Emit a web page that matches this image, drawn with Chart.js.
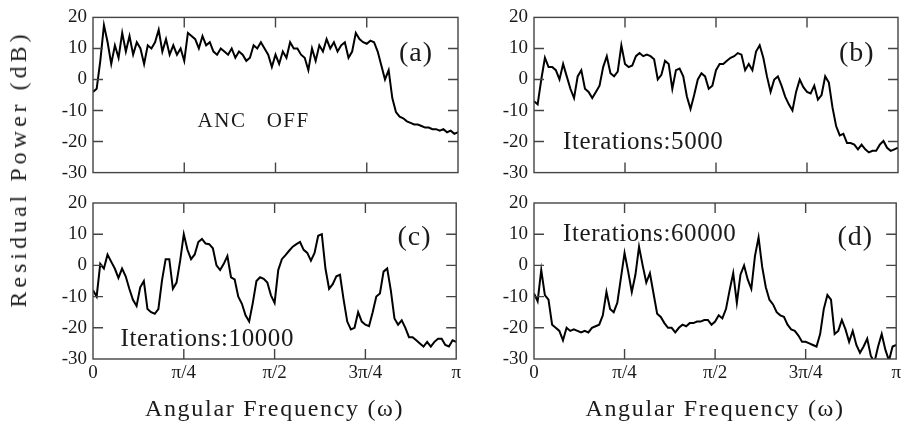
<!DOCTYPE html>
<html>
<head>
<meta charset="utf-8">
<script src="https://cdn.jsdelivr.net/npm/chart.js@4.4.1/dist/chart.umd.min.js"></script>
<style>
  body { margin: 0; background: #fff; }
  #wrap { position: relative; width: 904px; height: 426px; background: #fff; overflow: hidden; }
  canvas { position: absolute; }
  #ytitle {
    position: absolute; left: 18px; top: 169px;
    transform: translate(-50%, -50%) rotate(-90deg);
    font: 24px "Liberation Serif", serif; line-height: 1;
    letter-spacing: 4px; white-space: nowrap; color: #222;
  }
</style>
</head>
<body>
<div id="wrap">
  <canvas id="pa" width="464" height="190" style="left:0;top:0"></canvas>
  <canvas id="pb" width="442" height="190" style="left:462px;top:0"></canvas>
  <canvas id="pc" width="464" height="246" style="left:0;top:180px"></canvas>
  <canvas id="pd" width="442" height="246" style="left:462px;top:180px"></canvas>
  <div id="ytitle">Residual Power (dB)</div>
</div>
<script>
// x is angular frequency in units of pi, sampled every pi/100
const xTickLabels = ['0', 'π/4', 'π/2', '3π/4', 'π'];
const xTitle = 'Angular Frequency (ω)';

// (a) ANC off
const ancOff = [
  -4, -3, 6, 17.5, 12, 5, 11, 7, 15, 9,
  14, 8, 12, 10, 5, 11, 10, 12, 16, 9,
  13, 8, 11, 8, 10, 6, 15, 14, 13, 10,
  14, 11, 12, 9, 8, 10, 9, 8, 10, 7,
  9, 8, 6, 7, 11, 10, 12, 10, 8, 4,
  8, 5, 9, 7, 12, 10, 10, 8, 7, 3,
  10, 6, 11, 9, 13, 10, 12, 9, 11, 12,
  7, 9, 15, 13, 12, 11.5, 12.5, 12, 9, 4.5,
  0, 3, -6, -10.5, -12, -12.5, -13.5, -14, -14.5, -14.5,
  -15, -15.5, -15.5, -16, -16, -16.5, -16, -17, -16.5, -17.5,
  -17
];

// (b) 5000 iterations
const iter5000 = [
  -7, -8, 0, 7, 4, 4, 3, 0, 5, 1,
  -3, -6, 1, 3, -3, -4, -6, -4, -2, 4,
  7.5, 2, 1, 2.5, 11, 5, 4, 4.5, 7.5, 8.5,
  7.5, 8, 7.5, 6.5, 0, 1.5, 6, 5, -3, 3,
  3.5, 1, -5.5, -9.5, -5, 0, 2, 1, -3, -2,
  3, 5, 5, 6, 7, 7.5, 8.5, 8, 3, 5,
  3, 9, 11, 7, 1, -4, 0, 1, -2, -5.5,
  -8, -10, -4, 0, -2.5, -4, -4.5, -2, -6.5, -5,
  1, -1, -9, -15, -18, -17.5, -20.5, -20.5, -21, -22.5,
  -21, -22.5, -23.5, -23, -23, -21, -19.8, -22, -23, -22.5,
  -22
];

// (c) 10000 iterations
const iter10000 = [
  -8, -10, 0.5, -1, 3.5, 1.2, -1, -4, -1, -3.5,
  -7.5, -11, -13, -7, -5, -14, -15, -15.5, -14, -4.8,
  2, 2, -7.5, -5.5, 1.5, 10, 5, 2, 3.5, 7.5,
  8.5, 7, 6.8, 5.5, 0, -1.5, 0.5, 3, -3.8, -4.5,
  -10, -12.3, -16, -18, -12, -5, -3.8, -4.3, -5.5, -9.6,
  -12, -1.5, 2, 3.3, 4.7, 6, 6.8, 7.5, 5, 4,
  1.5, 4, 9.5, 10, -1, -7.5, -6, -3.5, -3, -11,
  -18, -20.5, -20, -15, -18, -19, -19.5, -15, -10, -9,
  -2, -1, -8, -17, -19, -17.6, -20, -23, -23, -24,
  -25, -26, -24.5, -26, -24.5, -23.5, -23.5, -25.5, -26, -24,
  -24.5
];

// (d) 60000 iterations
const iter60000 = [
  -9, -11.5, -1.5, -9.5, -11, -19, -20, -21, -24, -20,
  -21, -20.5, -21, -21.5, -21, -21.5, -20, -19.5, -19, -16,
  -8.5, -14, -15, -12, -4, 4, -2, -8.5, -3, 6,
  0, -5.5, -2.5, -9, -15.5, -16.5, -18.5, -20, -20, -21.5,
  -20, -19, -19.5, -18.5, -18.5, -18, -18, -17.5, -17.5, -19,
  -18, -16, -17, -14, -8, -2.5, -12, -3, 0, -4.5,
  -7.5, 3, 9, -0.5, -7, -11, -12.5, -15, -16, -16.5,
  -19, -20.5, -21, -22.5, -24.5, -24.5, -25, -25.5, -26, -22,
  -14, -9.5, -11, -22, -21, -17.5, -20.5, -24.5, -21, -25.5,
  -28, -26, -23.5, -29, -31, -26, -22, -27, -30.5, -26,
  -25.5
];

const freq = ancOff.map((v, i) => i / 100);

const serif = '"Liberation Serif", serif';

// letter-spaced axis titles; tick labels are drawn later (z: 1) without spacing
const spacingPlugin = {
  id: 'spacing',
  beforeDraw(chart) { chart.ctx.letterSpacing = '1.7px'; },
  beforeDatasetsDraw(chart) { chart.ctx.letterSpacing = '0px'; }
};

// closed frame with inward ticks on all four sides, plus panel notes
const framePlugin = {
  id: 'frame',
  afterDraw(chart, args, opts) {
    const {ctx, chartArea: a, scales: {x, y}} = chart;
    ctx.save();
    ctx.strokeStyle = '#444';
    ctx.lineWidth = 1.4;
    ctx.strokeRect(a.left, a.top, a.right - a.left, a.bottom - a.top);
    ctx.beginPath();
    x.ticks.forEach(t => {
      const px = x.getPixelForValue(t.value);
      if (px < a.left + 2 || px > a.right - 2) return;
      ctx.moveTo(px, a.bottom); ctx.lineTo(px, a.bottom - 10);
      ctx.moveTo(px, a.top); ctx.lineTo(px, a.top + 10);
    });
    y.ticks.forEach(t => {
      const py = y.getPixelForValue(t.value);
      if (py < a.top + 2 || py > a.bottom - 2) return;
      ctx.moveTo(a.left, py); ctx.lineTo(a.left + 10, py);
      ctx.moveTo(a.right, py); ctx.lineTo(a.right - 10, py);
    });
    ctx.stroke();
    ctx.fillStyle = '#1a1a1a';
    (opts.notes || []).forEach(n => {
      ctx.font = n.size + 'px ' + serif;
      ctx.letterSpacing = (n.spacing || 0) + 'px';
      ctx.textAlign = n.align;
      ctx.textBaseline = n.baseline;
      ctx.fillText(n.text, x.getPixelForValue(n.x), y.getPixelForValue(n.y));
    });
    ctx.restore();
  }
};

function makePanel(id, values, opt) {
  return new Chart(document.getElementById(id), {
    type: 'line',
    data: {
      datasets: [{
        data: values.map((v, i) => ({x: freq[i], y: v})),
        borderColor: '#000',
        borderWidth: 2,
        pointRadius: 0,
        tension: 0
      }]
    },
    options: {
      responsive: false,
      animation: false,
      devicePixelRatio: 1,
      layout: { padding: { left: 0, right: 6, top: opt.top, bottom: 0 } },
      plugins: {
        legend: { display: false },
        tooltip: { enabled: false },
        frame: { notes: opt.notes }
      },
      scales: {
        x: {
          type: 'linear', min: 0, max: 1,
          grid: { display: false, drawTicks: false },
          border: { display: false },
          ticks: {
            display: opt.bottomRow, stepSize: 0.25, padding: 3, z: 1,
            autoSkip: false, maxRotation: 0, color: '#1a1a1a',
            font: { family: serif, size: 19 },
            callback: (v, i) => xTickLabels[i]
          },
          title: {
            display: opt.bottomRow, text: xTitle, color: '#1a1a1a',
            font: { family: serif, size: 24, lineHeight: 1 },
            padding: { top: 0, bottom: 4 }
          },
          afterFit: s => { s.height = opt.xh; }
        },
        y: {
          min: -30, max: 20,
          grid: { display: false, drawTicks: false },
          border: { display: false },
          ticks: {
            stepSize: 10, padding: 6, z: 1, color: '#1a1a1a',
            font: { family: serif, size: 19 }
          },
          afterFit: s => { s.width = opt.yw; }
        }
      }
    },
    plugins: [spacingPlugin, framePlugin]
  });
}

makePanel('pa', ancOff, {
  top: 16, xh: 16, yw: 93, bottomRow: false,
  notes: [
    {text: '(a)', x: 0.885, y: 8.3, size: 28, align: 'center', baseline: 'middle', spacing: 1},
    {text: 'ANC   OFF', x: 0.44, y: -15.4, size: 21, align: 'center', baseline: 'alphabetic', spacing: 1.5}
  ]
});
makePanel('pb', iter5000, {
  top: 16, xh: 16, yw: 72, bottomRow: false,
  notes: [
    {text: '(b)', x: 0.887, y: 8.3, size: 28, align: 'center', baseline: 'middle', spacing: 1},
    {text: 'Iterations:5000', x: 0.08, y: -22.4, size: 25, align: 'left', baseline: 'alphabetic', spacing: 0.6}
  ]
});
makePanel('pc', iter10000, {
  top: 23, xh: 67, yw: 93, bottomRow: true,
  notes: [
    {text: '(c)', x: 0.885, y: 8.9, size: 28, align: 'center', baseline: 'middle', spacing: 1},
    {text: 'Iterations:10000', x: 0.076, y: -25.8, size: 25, align: 'left', baseline: 'alphabetic', spacing: 0.6}
  ]
});
makePanel('pd', iter60000, {
  top: 23, xh: 67, yw: 72, bottomRow: true,
  notes: [
    {text: '(d)', x: 0.887, y: 8.9, size: 28, align: 'center', baseline: 'middle', spacing: 1},
    {text: 'Iterations:60000', x: 0.08, y: 7.8, size: 25, align: 'left', baseline: 'alphabetic', spacing: 0.6}
  ]
});
</script>
</body>
</html>
